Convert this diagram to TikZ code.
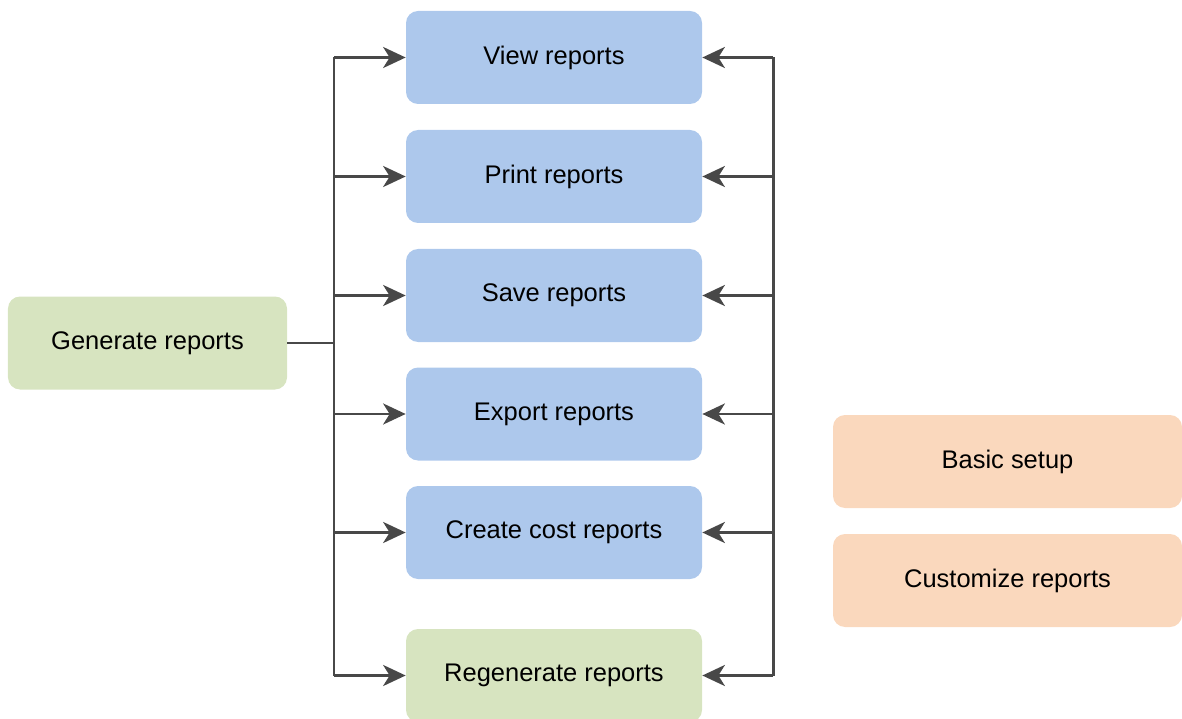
\documentclass[tikz,border=0pt]{standalone}
\usepackage{fontspec}
\setmainfont{Liberation Sans}
\usetikzlibrary{arrows.meta}
\definecolor{boxblue}{RGB}{173,200,236}
\definecolor{boxgreen}{RGB}{215,228,192}
\definecolor{boxorange}{RGB}{250,216,189}
\definecolor{linegray}{RGB}{72,72,72}
\begin{document}
\begin{tikzpicture}
  [every node/.style={rounded corners=0.24cm,inner sep=0pt,font=\fontsize{14.5}{17}\selectfont},
   task/.style={fill=boxblue,minimum width=5.92cm,minimum height=1.86cm},
   gentask/.style={fill=boxgreen,minimum height=1.86cm},
   setup/.style={fill=boxorange,minimum width=6.98cm,minimum height=1.86cm},
   link/.style={draw=linegray,line width=1.7pt},
   arr/.style={link,-{Stealth[length=0.45cm,width=0.42cm,inset=0.13cm]}}]
\useasboundingbox (0,0) rectangle (23.64,-14.38);
\node (gen)[gentask,minimum width=5.58cm] at (2.95,-6.86) {Generate reports};
  \node (view)[task] at (11.08,-1.15) {View reports};
  \node (print)[task] at (11.08,-3.53) {Print reports};
  \node (save)[task] at (11.08,-5.91) {Save reports};
  \node (export)[task] at (11.08,-8.28) {Export reports};
  \node (cost)[task] at (11.08,-10.65) {Create cost reports};
  \node (regen)[gentask,minimum width=5.92cm] at (11.08,-13.51) {Regenerate reports};
  \node (basic)[setup] at (20.15,-9.23) {Basic setup};
  \node (custom)[setup] at (20.15,-11.61) {Customize reports};

  \coordinate (lbus) at (6.68,0);
  \coordinate (rbus) at (15.46,0);
  \draw[link] (gen.east) -- (gen -| lbus);
  \draw[link] (lbus |- view) -- (lbus |- regen);
  \draw[link] (rbus |- view) -- (rbus |- regen);
 \foreach \to in {view,print,save,export,cost,regen}
    \draw[arr] (lbus |- \to) -- (\to.west);
 \foreach \to in {view,print,save,export,cost,regen}
    \draw[arr] (rbus |- \to) -- (\to.east);

\end{tikzpicture}
\end{document}
